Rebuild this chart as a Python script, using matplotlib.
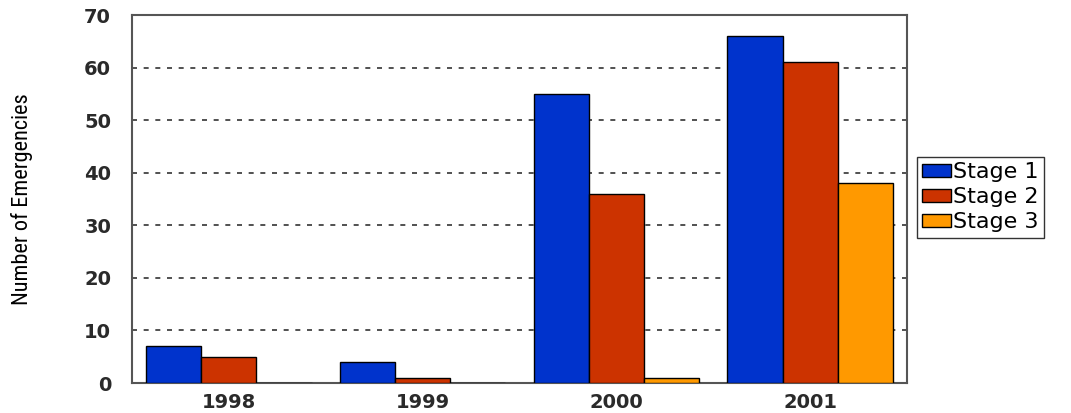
import numpy as np
import matplotlib
matplotlib.use('Agg')
import matplotlib.pyplot as plt
from matplotlib.patches import Patch
from matplotlib import font_manager as fm

years = ['1998', '1999', '2000', '2001']
stage1 = [7, 4, 55, 66]
stage2 = [5, 1, 36, 61]
stage3 = [0, 0, 1, 38]
series_names = ['Stage 1', 'Stage 2', 'Stage 3']
colors = ['#0033CC', '#CC3300', '#FF9900']

# narrow face for the y label, if one is around
installed = {f.name for f in fm.fontManager.ttflist}
narrow = None
for cand in ['Liberation Sans Narrow', 'Arial Narrow', 'Roboto Condensed', 'Archivo Narrow',
             'PT Sans Narrow', 'Open Sans Condensed', 'Encode Sans Condensed', 'Pragati Narrow']:
    if cand in installed:
        narrow = cand
        break

plt.rcParams['font.family'] = ['DejaVu Sans']

fig = plt.figure(figsize=(10.71, 4.13), dpi=100)
ax = fig.add_axes([0.1232, 0.0726, 0.7237, 0.891])

x = np.arange(len(years))
w = 0.285
for i, (vals, c) in enumerate(zip([stage1, stage2, stage3], colors)):
    ax.bar(x + (i - 1) * w, vals, w, color=c, edgecolor='black', linewidth=1.0, zorder=3)

ax.set_xlim(-0.5, 3.5)
ax.set_ylim(0, 70)
ax.set_yticks(range(0, 71, 10))
ax.set_xticks(x)
ax.set_xticklabels(years)
ax.tick_params(axis='y', labelsize=14, length=0, pad=15)
ax.tick_params(axis='x', labelsize=14, length=0, pad=7)
for t in ax.get_xticklabels() + ax.get_yticklabels():
    t.set_fontweight('bold')
    t.set_color('#2a2a2a')

for yv in range(10, 70, 10):
    ax.axhline(yv, color='#333333', linestyle=(0, (3, 4)), linewidth=1.2, zorder=1)

for s in ax.spines.values():
    s.set_color('#555555')
    s.set_linewidth(1.5)

if narrow:
    ax.set_ylabel('Number of Emergencies', fontsize=16, family=narrow)
else:
    ax.set_ylabel('Number of Emergencies', fontsize=13, family='Liberation Sans')
ax.yaxis.set_label_coords(-0.128, 0.5)

handles = [Patch(facecolor=c, edgecolor='black', label=n) for c, n in zip(colors, series_names)]
leg = fig.legend(handles=handles, loc='upper left', bbox_to_anchor=(0.856, 0.620),
                 fontsize=16, frameon=True, fancybox=False, edgecolor='black',
                 handlelength=1.3, handleheight=0.5, handletextpad=0.1,
                 labelspacing=0.22, borderpad=0.25, borderaxespad=0)
leg.get_frame().set_linewidth(1.0)

fig.savefig('out.png', dpi=100)
